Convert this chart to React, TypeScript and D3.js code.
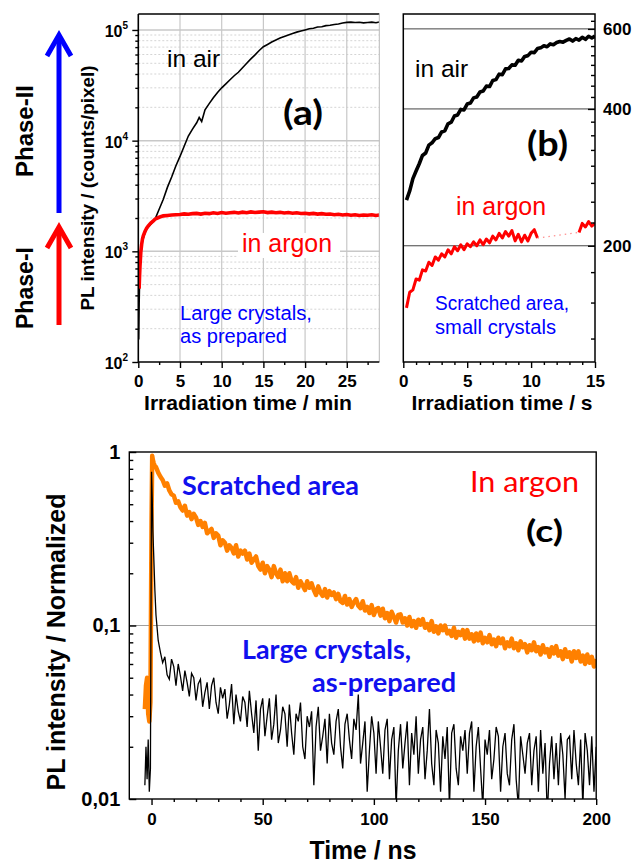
import React, { useEffect, useRef } from "react";
import { axisBottom, axisLeft, axisRight, line, scaleLinear, scaleLog, select } from "d3";

const FONT = "'Liberation Sans', Arial, sans-serif";
const CAL = "Lato, 'Open Sans', sans-serif";

// (a) large crystals, as prepared — irradiation time in minutes
const airMin = [0.05, 0.1, 0.15, 0.2, 0.3, 0.5, 0.8, 1, 1.5, 2, 2.5, 3, 3.5, 4, 4.5, 5, 5.5, 6, 6.5, 7, 7.3, 7.6, 8, 8.5, 9, 9.5, 10, 10.5, 11, 11.5, 12, 12.5, 13, 13.5, 14, 14.5, 15, 15.5, 16, 16.5, 17, 17.5, 18, 18.5, 19, 19.5, 20, 20.5, 21, 21.5, 22, 22.5, 23, 23.5, 24, 24.5, 25, 25.5, 26, 26.5, 27, 27.5, 28, 28.5, 28.9];
const airCounts = [160, 330, 520, 680, 950, 1240, 1470, 1590, 1760, 1950, 2400, 2950, 3800, 4700, 5900, 7200, 8900, 11000, 12700, 14500, 16200, 14900, 19000, 21600, 24400, 27200, 30000, 32600, 35500, 38600, 41500, 45600, 50000, 54800, 59500, 65200, 70500, 74000, 77800, 81000, 84500, 87200, 90200, 92800, 95600, 97700, 100000, 102500, 103800, 106200, 107000, 109400, 110300, 112200, 113100, 115400, 117000, 117800, 116900, 117300, 115800, 116700, 117600, 116200, 118000];
const argonMin = [0.1, 0.15, 0.2, 0.3, 0.4, 0.5, 0.6, 0.8, 1, 1.2, 1.5, 1.8, 2, 2.5, 3, 3.5, 4, 4.5, 5, 5.5, 6, 6.5, 7, 7.5, 8, 8.5, 9, 9.5, 10, 10.5, 11, 11.5, 12, 12.5, 13, 13.5, 14, 14.5, 15, 15.5, 16, 16.5, 17, 17.5, 18, 18.5, 19, 19.5, 20, 20.5, 21, 21.5, 22, 22.5, 23, 23.5, 24, 24.5, 25, 25.5, 26, 26.5, 27, 27.5, 28, 28.5, 28.9];
const argonCounts = [460, 600, 730, 980, 1150, 1290, 1380, 1510, 1620, 1700, 1800, 1880, 1950, 2030, 2090, 2110, 2130, 2140, 2150, 2180, 2160, 2190, 2200, 2170, 2210, 2190, 2230, 2200, 2240, 2210, 2230, 2250, 2220, 2260, 2230, 2270, 2240, 2260, 2280, 2240, 2260, 2230, 2250, 2220, 2240, 2210, 2230, 2200, 2210, 2180, 2200, 2170, 2190, 2160, 2170, 2140, 2160, 2130, 2150, 2120, 2140, 2110, 2130, 2120, 2140, 2110, 2130];

// (b) scratched area, small crystals — seconds, one sample every 0.25 s
const scratchStep = 0.25;
const scratchAir = [252, 264, 281, 292, 303, 316, 320, 333, 337, 344, 346, 356, 358, 371, 374, 386, 388, 399, 398, 410, 412, 423, 425, 436, 438, 449, 448, 462, 464, 477, 476, 490, 491, 500, 499, 512, 510, 522, 524, 533, 532, 543, 545, 551, 548, 556, 554, 560, 563, 561, 566, 570, 564, 571, 567, 575, 569, 578, 573, 579];
const scratchArgon1 = [146, 158, 160, 169, 168, 177, 176, 184, 181, 189, 186, 192, 189, 196, 192, 199, 195, 201, 196, 202, 199, 204, 200, 206, 201, 207, 203, 210, 206, 213, 208, 215, 210, 216, 205, 212, 204, 211, 205, 213, 217, 208];
const scratchArgon2Start = 13.75;
const scratchArgon2 = [214, 224, 220, 226, 221, 224];

// (c) PL decay, time in ns; head sampled densely, tail every 1 ns from 2 ns
const decayHeadNs = [-3, -2.5, -2, -1.5, -1, -0.5, 0, 0.3, 0.6, 1, 1.5];
const scratchedHead = [0.033, 0.045, 0.05, 0.031, 0.028, 0.036, 0.4, 0.95, 0.9, 0.86, 0.83];
const largeHead = [0.012, 0.02, 0.013, 0.022, 0.011, 0.015, 0.77, 0.55, 0.35, 0.25, 0.16];
const tailStartNs = 2;
const scratchedTail = [
  0.82, 0.76, 0.72, 0.69, 0.64, 0.66, 0.6, 0.57, 0.56, 0.51,
  0.52, 0.48, 0.46, 0.49, 0.43, 0.45, 0.41, 0.44, 0.42, 0.38,
  0.4, 0.37, 0.39, 0.34, 0.35, 0.36, 0.32, 0.34, 0.33, 0.29,
  0.31, 0.3, 0.27, 0.29, 0.28, 0.26, 0.29, 0.25, 0.27, 0.26,
  0.27, 0.24, 0.26, 0.23, 0.24, 0.25, 0.22, 0.21, 0.23, 0.2,
  0.22, 0.21, 0.19, 0.22, 0.2, 0.19, 0.21, 0.18, 0.2, 0.18,
  0.2, 0.18, 0.175, 0.19, 0.165, 0.18, 0.17, 0.16, 0.18, 0.165,
  0.175, 0.16, 0.15, 0.168, 0.155, 0.148, 0.162, 0.145, 0.158, 0.15,
  0.155, 0.142, 0.152, 0.138, 0.135, 0.148, 0.132, 0.142, 0.128, 0.136,
  0.142, 0.13, 0.126, 0.138, 0.122, 0.128, 0.118, 0.131, 0.115, 0.124,
  0.126, 0.114, 0.125, 0.11, 0.118, 0.106, 0.12, 0.112, 0.104, 0.115,
  0.116, 0.104, 0.11, 0.1, 0.112, 0.099, 0.106, 0.097, 0.108, 0.101,
  0.109, 0.097, 0.102, 0.094, 0.106, 0.092, 0.099, 0.09, 0.1, 0.094,
  0.1, 0.09, 0.093, 0.087, 0.097, 0.085, 0.092, 0.088, 0.094, 0.084,
  0.094, 0.084, 0.089, 0.081, 0.09, 0.082, 0.091, 0.079, 0.085, 0.08,
  0.088, 0.078, 0.083, 0.076, 0.085, 0.079, 0.084, 0.074, 0.08, 0.076,
  0.084, 0.074, 0.079, 0.072, 0.081, 0.075, 0.078, 0.07, 0.077, 0.072,
  0.08, 0.071, 0.075, 0.068, 0.077, 0.07, 0.073, 0.066, 0.075, 0.069,
  0.076, 0.067, 0.071, 0.064, 0.073, 0.066, 0.07, 0.062, 0.071, 0.065,
  0.071, 0.062, 0.067, 0.06, 0.068, 0.061, 0.066, 0.058, 0.064,
];
const largeTail = [
  0.115, 0.082, 0.07, 0.061, 0.066, 0.052, 0.049, 0.064, 0.058, 0.045,
  0.06, 0.051, 0.042, 0.055, 0.047, 0.039, 0.053, 0.05, 0.037, 0.046,
  0.049, 0.034, 0.041, 0.047, 0.033, 0.045, 0.05, 0.036, 0.031, 0.044,
  0.038, 0.043, 0.029, 0.035, 0.046, 0.027, 0.04, 0.032, 0.028, 0.039,
  0.036, 0.026, 0.042, 0.031, 0.024, 0.037, 0.019, 0.033, 0.038, 0.023,
  0.03, 0.038, 0.022, 0.027, 0.04, 0.021, 0.025, 0.034, 0.031, 0.02,
  0.035, 0.024, 0.018, 0.031, 0.028, 0.036, 0.02, 0.017, 0.03, 0.026,
  0.032, 0.012, 0.026, 0.034, 0.019, 0.023, 0.029, 0.016, 0.031, 0.021,
  0.018, 0.028, 0.033, 0.02, 0.015, 0.027, 0.031, 0.022, 0.017, 0.029,
  0.025, 0.04, 0.016, 0.021, 0.028, 0.011, 0.019, 0.03, 0.024, 0.014,
  0.028, 0.02, 0.014, 0.025, 0.029, 0.013, 0.022, 0.026, 0.009, 0.019,
  0.027, 0.015, 0.021, 0.028, 0.012, 0.024, 0.018, 0.03, 0.014, 0.022,
  0.026, 0.013, 0.019, 0.033, 0.016, 0.012, 0.025, 0.021, 0.011, 0.023,
  0.017, 0.026, 0.009, 0.024, 0.027, 0.015, 0.012, 0.023, 0.019, 0.025,
  0.014, 0.024, 0.028, 0.011, 0.02, 0.026, 0.015, 0.009, 0.022, 0.018,
  0.025, 0.013, 0.017, 0.026, 0.023, 0.011, 0.02, 0.024, 0.014, 0.012,
  0.022, 0.027, 0.013, 0.009, 0.023, 0.018, 0.014, 0.021, 0.024, 0.012,
  0.019, 0.023, 0.011, 0.025, 0.014, 0.021, 0.008, 0.016, 0.023, 0.013,
  0.021, 0.012, 0.024, 0.018, 0.01, 0.022, 0.023, 0.013, 0.025, 0.016,
  0.012, 0.022, 0.009, 0.024, 0.019, 0.012, 0.023, 0.011, 0.02,
];

// tick values
const aXTicks = [0, 5, 10, 15, 20, 25];
const aYDecades = [100, 1000, 10000, 100000];
const bXTicks = [0, 5, 10, 15];
const bYTicks = [200, 400, 600];
const cXTicks = [0, 50, 100, 150, 200];
const cYTicks = [0.01, 0.1, 1];

// panel frames
const A = { left: 138.3, right: 379.3, top: 14, bottom: 362 };
const B = { left: 403.3, right: 595, top: 14, bottom: 362 };
const C = { left: 129.3, right: 596.2, top: 452, bottom: 799 };

const xA = scaleLinear().domain([0, 28.9]).range([A.left, A.right]);
const yA = scaleLog().domain([100, 139400]).range([A.bottom, A.top]);
const xB = scaleLinear().domain([0, 15]).range([B.left, B.right]);
const yB = scaleLog().domain([111, 647]).range([B.bottom, B.top]);
const xC = scaleLinear().domain([-10, 200]).range([C.left, C.right]);
const yC = scaleLog().domain([0.01, 1]).range([C.bottom, C.top]);

const zip = (xs: number[], ys: number[]) => xs.map((x, i) => [x, ys[i]] as [number, number]);
const grid = (start: number, step: number, ys: number[]) =>
  ys.map((y, i) => [start + i * step, y] as [number, number]);

const airPts = zip(airMin, airCounts);
const argonPts = zip(argonMin, argonCounts);
const bAirPts = grid(scratchStep, scratchStep, scratchAir);
const bArgon1 = grid(scratchStep, scratchStep, scratchArgon1);
const bArgon2 = grid(scratchArgon2Start, scratchStep, scratchArgon2);
const scratchedPts = [...zip(decayHeadNs, scratchedHead), ...grid(tailStartNs, 1, scratchedTail)];
const largePts = [...zip(decayHeadNs, largeHead), ...grid(tailStartNs, 1, largeTail)];

const minorLog = (decades: number[], lo: number, hi: number) =>
  decades.flatMap((d) => [2, 3, 4, 5, 6, 7, 8, 9].map((k) => k * d)).filter((v) => v > lo && v < hi);

const styleAxis = (g: any, size: number) => {
  g.attr("font-size", size).attr("font-family", FONT).attr("font-weight", "bold");
  g.select(".domain").remove();
  g.selectAll("line").attr("stroke", "#000").attr("stroke-width", 1.4);
  g.selectAll("text").attr("fill", "#000");
};

export default function App() {
  const svgRef = useRef<SVGSVGElement>(null);

  useEffect(() => {
    const svg = select(svgRef.current);
    const put = (cls: string, tr: string, axis: any, size = 17) => {
      const g = svg.select(`.${cls}`).attr("transform", tr).call(axis);
      styleAxis(g, size);
    };
    const none = () => "";

    // (a)
    put("ax-a-minor", `translate(0,${A.bottom})`,
      axisBottom(xA).tickValues([2.5, 7.5, 12.5, 17.5, 22.5, 27.5]).tickSize(3).tickFormat(none));
    put("ax-a", `translate(0,${A.bottom})`,
      axisBottom(xA).tickValues(aXTicks).tickSize(6).tickPadding(7).tickFormat((d: any) => `${d}`));
    put("ay-a-minor", `translate(${A.left},0)`,
      axisLeft(yA).tickValues(minorLog([100, 1000, 10000, 100000], 100, 139400)).tickSize(3).tickFormat(none));
    put("ay-a", `translate(${A.left},0)`, axisLeft(yA).tickValues(aYDecades).tickSize(6).tickFormat(none));

    // (b)
    put("ax-b-minor", `translate(0,${B.bottom})`,
      axisBottom(xB).tickValues([1, 2, 3, 4, 6, 7, 8, 9, 11, 12, 13, 14]).tickSize(3).tickFormat(none));
    put("ax-b", `translate(0,${B.bottom})`,
      axisBottom(xB).tickValues(bXTicks).tickSize(6).tickPadding(7).tickFormat((d: any) => `${d}`));
    put("ay-b-minor", `translate(${B.right},0)`,
      axisRight(yB).tickValues([125, 150, 175, 225, 250, 275, 300, 325, 350, 375, 425, 450, 475, 500, 525, 550, 575, 625]).tickSize(-4).tickFormat(none));
    put("ay-b", `translate(${B.right},0)`,
      axisRight(yB).tickValues(bYTicks).tickSize(-7).tickPadding(8).tickFormat((d: any) => `${d}`), 17);

    // (c)
    put("ax-c-minor", `translate(0,${C.bottom})`,
      axisBottom(xC).tickValues([10, 20, 30, 40, 60, 70, 80, 90, 110, 120, 130, 140, 160, 170, 180, 190]).tickSize(3).tickFormat(none));
    put("ax-c", `translate(0,${C.bottom})`,
      axisBottom(xC).tickValues(cXTicks).tickSize(6).tickPadding(8).tickFormat((d: any) => `${d}`), 17);
    put("ay-c-minor", `translate(${C.left},0)`,
      axisLeft(yC).tickValues(minorLog([0.01, 0.1], 0.01, 1)).tickSize(-4).tickFormat(none));
    put("ay-c", `translate(${C.left},0)`,
      axisLeft(yC).tickValues(cYTicks).tickSize(-7).tickPadding(9)
        .tickFormat((d: any) => `${d}`.replace(".", ",")), 20);
  }, []);

  const lineA = line<[number, number]>().x((d) => xA(d[0])).y((d) => yA(d[1]));
  const lineB = line<[number, number]>().x((d) => xB(d[0])).y((d) => yB(d[1]));
  const lineC = line<[number, number]>().x((d) => xC(d[0])).y((d) => yC(d[1]));
  const gapB = [bArgon1[bArgon1.length - 1], bArgon2[0]];

  const minorA = minorLog([100, 1000, 10000, 100000], 100, 139400);

  return (
    <svg ref={svgRef} width={635} height={864} style={{ position: "absolute", left: 0, top: 0 }} fontFamily={FONT}>
      <defs>
        <clipPath id="clipA"><rect x={A.left} y={A.top} width={A.right - A.left} height={A.bottom - A.top} /></clipPath>
        <clipPath id="clipB"><rect x={B.left} y={B.top} width={B.right - B.left} height={B.bottom - B.top} /></clipPath>
        <clipPath id="clipC"><rect x={C.left} y={C.top} width={C.right - C.left} height={C.bottom - C.top} /></clipPath>
      </defs>
      <rect width={635} height={864} fill="#fff" />

      {/* ---------- (a) ---------- */}
      {minorA.map((v) => (
        <line key={`ma${v}`} x1={A.left} x2={A.right} y1={yA(v)} y2={yA(v)} stroke="#d4d4d4" strokeDasharray="2,2" />
      ))}
      {aYDecades.slice(1).map((v) => (
        <line key={`ga${v}`} x1={A.left} x2={A.right} y1={yA(v)} y2={yA(v)} stroke="#c8c8c8" strokeWidth={1.5} />
      ))}
      {aXTicks.slice(1).map((v) => (
        <line key={`gx${v}`} x1={xA(v)} x2={xA(v)} y1={A.top} y2={A.bottom} stroke="#c8c8c8" strokeWidth={1.2} />
      ))}
      <rect x={238} y={233} width={102} height={25} fill="#fff" />
      <g clipPath="url(#clipA)">
        <path d={lineA(airPts) ?? ""} fill="none" stroke="#000" strokeWidth={1.6} />
        <path d={lineA(argonPts) ?? ""} fill="none" stroke="#ff0000" strokeWidth={3.6} />
      </g>
      <line x1={A.left} x2={A.right} y1={A.top} y2={A.top} stroke="#000" strokeWidth={1.5} />
      <line x1={A.right} x2={A.right} y1={A.top} y2={A.bottom} stroke="#b8b8b8" strokeWidth={1} />
      <line x1={A.left} x2={A.left} y1={A.top} y2={A.bottom} stroke="#000" strokeWidth={1.6} />
      <line x1={A.left} x2={A.right} y1={A.bottom} y2={A.bottom} stroke="#000" strokeWidth={1.6} />
      <g className="ax-a-minor" />
      <g className="ax-a" />
      <g className="ay-a-minor" />
      <g className="ay-a" />
      {aYDecades.map((v) => (
        <text key={`la${v}`} x={128} y={yA(v) + 7} textAnchor="end" fontSize={16} fontWeight="bold">
          10<tspan dy={-8} fontSize={10}>{Math.round(Math.log10(v))}</tspan>
        </text>
      ))}
      <text x={248} y={410} textAnchor="middle" fontSize={20.5} fontWeight="bold" textLength={208} lengthAdjust="spacingAndGlyphs">
        Irradiation time / min
      </text>
      <text transform="translate(94,188) rotate(-90)" textAnchor="middle" fontSize={18.5} fontWeight="bold" textLength={245} lengthAdjust="spacingAndGlyphs">
        PL intensity / (counts/pixel)
      </text>
      <text x={167} y={67} fontSize={24.5}>in air</text>
      <text x={283} y={125} fontSize={34} fontWeight="bold" fontFamily={CAL} textLength={40} lengthAdjust="spacingAndGlyphs">(a)</text>
      <text x={242} y={252} fontSize={25} fill="#ff0000" textLength={90} lengthAdjust="spacingAndGlyphs">in argon</text>
      <text x={180} y={320} fontSize={20} fill="#0000ff" textLength={132} lengthAdjust="spacingAndGlyphs">Large crystals,</text>
      <text x={180} y={343} fontSize={20} fill="#0000ff" textLength={107} lengthAdjust="spacingAndGlyphs">as prepared</text>

      {/* phase arrows */}
      <line x1={59} x2={59} y1={213} y2={37} stroke="#0000ff" strokeWidth={5} />
      <polyline points="47,56 59,35 71,56" fill="none" stroke="#0000ff" strokeWidth={5} strokeLinejoin="miter" />
      <line x1={59} x2={59} y1={325} y2={228} stroke="#ff0000" strokeWidth={5} />
      <polyline points="47,248 59,227 71,248" fill="none" stroke="#ff0000" strokeWidth={5} strokeLinejoin="miter" />
      <text transform="translate(33,131) rotate(-90)" textAnchor="middle" fontSize={24} fontWeight="bold" textLength={92} lengthAdjust="spacingAndGlyphs">Phase-II</text>
      <text transform="translate(33,288) rotate(-90)" textAnchor="middle" fontSize={24} fontWeight="bold" textLength={82} lengthAdjust="spacingAndGlyphs">Phase-I</text>

      {/* ---------- (b) ---------- */}
      {bYTicks.map((v) => (
        <line key={`gb${v}`} x1={B.left} x2={B.right} y1={yB(v)} y2={yB(v)} stroke="#444" strokeWidth={1} />
      ))}
      <g clipPath="url(#clipB)">
        <path d={lineB(bAirPts) ?? ""} fill="none" stroke="#000" strokeWidth={3.6} strokeLinejoin="round" />
        <path d={lineB(bArgon1) ?? ""} fill="none" stroke="#ff0000" strokeWidth={3} strokeLinejoin="round" />
        <path d={lineB(gapB) ?? ""} fill="none" stroke="#ff9090" strokeWidth={1.3} strokeDasharray="1.5,4" />
        <path d={lineB(bArgon2) ?? ""} fill="none" stroke="#ff0000" strokeWidth={3} strokeLinejoin="round" />
      </g>
      <rect x={B.left} y={B.top} width={B.right - B.left} height={B.bottom - B.top} fill="none" stroke="#000" strokeWidth={1.5} />
      <g className="ax-b-minor" />
      <g className="ax-b" />
      <g className="ay-b-minor" />
      <g className="ay-b" />
      <text x={502} y={410} textAnchor="middle" fontSize={20.5} fontWeight="bold" textLength={181} lengthAdjust="spacingAndGlyphs">
        Irradiation time / s
      </text>
      <text x={415} y={77} fontSize={24.5}>in air</text>
      <text x={527} y={156} fontSize={34} fontWeight="bold" fontFamily={CAL} textLength={41} lengthAdjust="spacingAndGlyphs">(b)</text>
      <text x={456} y={215} fontSize={25} fill="#ff0000" textLength={90} lengthAdjust="spacingAndGlyphs">in argon</text>
      <text x={435} y={310} fontSize={19.5} fill="#0000ff" textLength={134} lengthAdjust="spacingAndGlyphs">Scratched area,</text>
      <text x={435} y={334} fontSize={19.5} fill="#0000ff" textLength={121} lengthAdjust="spacingAndGlyphs">small crystals</text>

      {/* ---------- (c) ---------- */}
      <line x1={C.left} x2={C.right} y1={yC(0.1)} y2={yC(0.1)} stroke="#a0a0a0" strokeWidth={1.2} />
      <g clipPath="url(#clipC)">
        <path d={lineC(scratchedPts) ?? ""} fill="none" stroke="#ff8000" strokeWidth={4.5} strokeLinejoin="round" />
        <path d={lineC(largePts) ?? ""} fill="none" stroke="#000" strokeWidth={1.3} />
      </g>
      <rect x={C.left} y={C.top} width={C.right - C.left} height={C.bottom - C.top} fill="none" stroke="#000" strokeWidth={1.4} />
      <g className="ax-c-minor" />
      <g className="ax-c" />
      <g className="ay-c-minor" />
      <g className="ay-c" />
      <text x={363} y={859} textAnchor="middle" fontSize={25} fontWeight="bold" textLength={107} lengthAdjust="spacingAndGlyphs">Time / ns</text>
      <text transform="translate(65,642) rotate(-90)" textAnchor="middle" fontSize={25} fontWeight="bold" textLength={297} lengthAdjust="spacingAndGlyphs">
        PL intensity / Normalized
      </text>
      <text x={182} y={495} fontSize={27} fontWeight="bold" fontFamily={CAL} fill="#1010ee" textLength={177} lengthAdjust="spacingAndGlyphs">Scratched area</text>
      <text x={470} y={492} fontSize={28} fontFamily={CAL} fill="#ff0000" textLength={109} lengthAdjust="spacingAndGlyphs">In argon</text>
      <text x={526} y={542} fontSize={30} fontWeight="bold" fontFamily={CAL} textLength={37} lengthAdjust="spacingAndGlyphs">(c)</text>
      <text x={242} y={659} fontSize={26} fontWeight="bold" fontFamily={CAL} fill="#1010ee" textLength={169} lengthAdjust="spacingAndGlyphs">Large crystals,</text>
      <text x={312} y={692} fontSize={26} fontWeight="bold" fontFamily={CAL} fill="#1010ee" textLength={144} lengthAdjust="spacingAndGlyphs">as-prepared</text>
    </svg>
  );
}
